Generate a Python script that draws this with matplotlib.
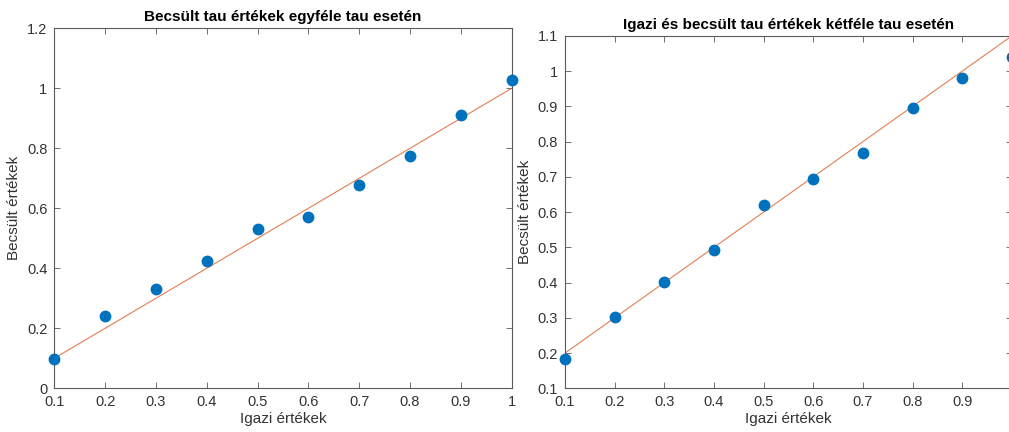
import numpy as np
import matplotlib
matplotlib.use('Agg')
import matplotlib.pyplot as plt

plt.rcParams['font.family'] = ['Liberation Sans', 'DejaVu Sans']

# left panel: one kind of tau
true_1 = [0.1, 0.2, 0.3, 0.4, 0.5, 0.6, 0.7, 0.8, 0.9, 1.0]
est_1 = [0.098, 0.241, 0.330, 0.424, 0.532, 0.570, 0.678, 0.774, 0.910, 1.029]
ref_x_1 = [0.1, 1.0]
ref_y_1 = [0.1, 1.0]

# right panel: two kinds of tau
true_2 = [0.1, 0.2, 0.3, 0.4, 0.5, 0.6, 0.7, 0.8, 0.9, 1.0]
est_2 = [0.182, 0.301, 0.401, 0.493, 0.620, 0.694, 0.767, 0.896, 0.979, 1.039]
ref_x_2 = [0.1, 1.0]
ref_y_2 = [0.2, 1.1]

x_ticks = [0.1, 0.2, 0.3, 0.4, 0.5, 0.6, 0.7, 0.8, 0.9, 1.0]
x_labels_1 = ['0.1', '0.2', '0.3', '0.4', '0.5', '0.6', '0.7', '0.8', '0.9', '1']
# the right panel runs off the edge, its last label is not visible
x_labels_2 = ['0.1', '0.2', '0.3', '0.4', '0.5', '0.6', '0.7', '0.8', '0.9', '']

BLUE = '#0072BD'
ORANGE = '#D95319'
AX_COL = '#333333'


def style_axes(ax):
    for s in ax.spines.values():
        s.set_color('#5a5a5a')
        s.set_linewidth(0.8)
    ax.tick_params(direction='in', top=True, right=True, length=4,
                   width=0.6, color='#5a5a5a', labelsize=10.5,
                   labelcolor=AX_COL, pad=5)


def draw_panel(ax, x, y, rx, ry, title, ylim, yticks, xlabels):
    ax.plot(rx, ry, color=ORANGE, lw=0.8, alpha=0.75, zorder=2)
    ax.plot(x, y, 'o', color=BLUE, markersize=7.5, zorder=3, clip_on=False)
    ax.set_xlim(0.1, 1.0)
    ax.set_ylim(*ylim)
    ax.set_xticks(x_ticks)
    ax.set_xticklabels(xlabels)
    ax.set_yticks(yticks)
    ax.set_yticklabels(['%g' % t for t in yticks])
    ax.set_title(title, fontsize=11, fontweight='bold', color='black', pad=5)
    ax.set_xlabel('Igazi értékek', fontsize=11, color=AX_COL, labelpad=2)
    ax.set_ylabel('Becsült értékek', fontsize=11, color=AX_COL, labelpad=4)
    style_axes(ax)


fig = plt.figure(figsize=(10.09, 4.32), dpi=100)

ax1 = fig.add_axes([0.0538, 0.1012, 0.4533, 0.8333])
draw_panel(ax1, true_1, est_1, ref_x_1, ref_y_1,
           'Becsült tau értékek egyféle tau esetén',
           (0, 1.2), [0, 0.2, 0.4, 0.6, 0.8, 1.0, 1.2], x_labels_1)

ax2 = fig.add_axes([0.560, 0.1012, 0.443, 0.816])
draw_panel(ax2, true_2, est_2, ref_x_2, ref_y_2,
           'Igazi és becsült tau értékek kétféle tau esetén',
           (0.1, 1.1), [0.1, 0.2, 0.3, 0.4, 0.5, 0.6, 0.7, 0.8, 0.9, 1.0, 1.1],
           x_labels_2)

fig.savefig('out.png', dpi=100)
